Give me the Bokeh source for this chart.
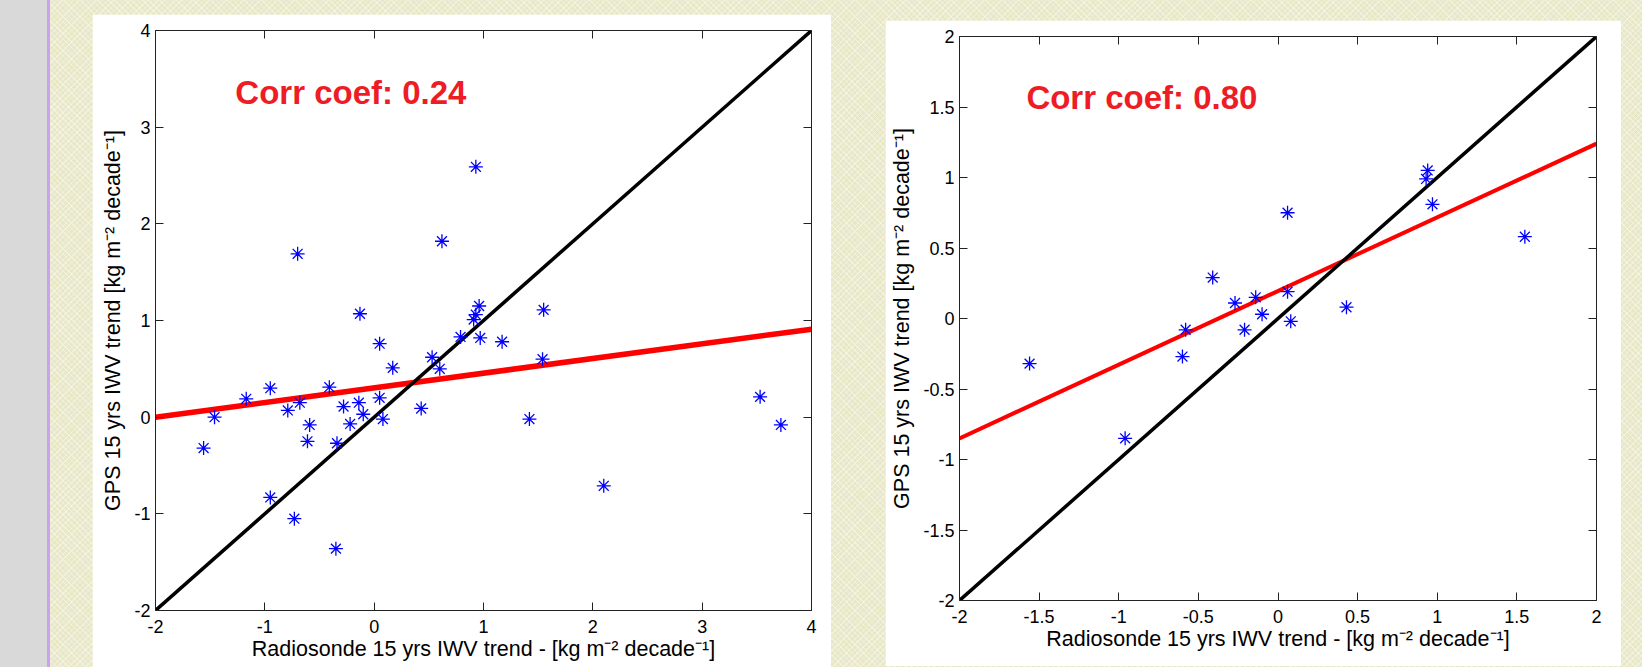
from bokeh.plotting import figure
from bokeh.layouts import row
from bokeh.models import (FixedTicker, LinearAxis, Label, Range1d,
                          NumeralTickFormatter, Spacer)
from bokeh.embed import file_html
from bokeh.resources import INLINE

# ---------------- data ----------------
left_x = [0.93, 0.62, -0.70, -0.13, 0.96, 0.93, 0.91, 0.05, 0.17, 0.79,
          0.97, 1.17, 1.55, 0.53, 0.60, 1.54, -0.95, -0.41, -1.17, 0.05,
          0.43, 0.08, 1.42, 3.53, 3.72, 2.10, -1.56, -1.46, -0.68, -0.79,
          -0.59, -0.61, -0.34, -0.28, -0.14, -0.10, -0.22, -0.95, -0.73, -0.35]
left_y = [2.59, 1.82, 1.69, 1.07, 1.15, 1.06, 1.01, 0.76, 0.51, 0.83,
          0.82, 0.78, 1.11, 0.62, 0.50, 0.60, 0.30, 0.31, 0.19, 0.20,
          0.09, -0.02, -0.02, 0.21, -0.08, -0.71, -0.32, 0.00, 0.15, 0.07,
          -0.08, -0.25, -0.27, 0.11, 0.15, 0.03, -0.07, -0.83, -1.05, -1.36]

right_x = [0.94, 0.93, 0.97, 0.06, 1.55, -0.41, -0.27, -0.14, 0.06, -0.10,
           -0.21, 0.08, 0.43, -0.58, -0.60, -1.56, -0.96]
right_y = [1.05, 0.99, 0.81, 0.75, 0.58, 0.29, 0.11, 0.15, 0.19, 0.03,
           -0.08, -0.02, 0.08, -0.08, -0.27, -0.32, -0.85]

left_fit_x = [-2, 4]
left_fit_y = [0.0, 0.91]
left_one_x = [-2, 4]
left_one_y = [-2, 4]

right_fit_x = [-2, 2]
right_fit_y = [-0.85, 1.24]
right_one_x = [-2, 2]
right_one_y = [-2, 2]

left_ticks = [-2, -1, 0, 1, 2, 3, 4]
right_ticks = [-2, -1.5, -1, -0.5, 0, 0.5, 1, 1.5, 2]

left_corr = "Corr coef: 0.24"
right_corr = "Corr coef: 0.80"

x_label = "Radiosonde 15 yrs IWV trend - [kg m\u207b\u00b2 decade\u207b\u00b9]"
y_label = "GPS 15 yrs IWV trend [kg m\u207b\u00b2 decade\u207b\u00b9]"

FONT = "Liberation Sans"


def style_axis(ax, ticks):
    ax.ticker = FixedTicker(ticks=ticks)
    ax.formatter = NumeralTickFormatter(format="0.[0]")
    ax.major_tick_in = 8
    ax.major_tick_out = 0
    ax.minor_tick_line_color = None
    ax.axis_line_color = "#222222"
    ax.major_tick_line_color = "#222222"
    ax.major_label_text_font = FONT
    ax.major_label_text_font_size = "18px"
    ax.major_label_text_color = "black"
    ax.axis_label_text_font = FONT
    ax.axis_label_text_font_size = "21.5px"
    ax.axis_label_text_font_style = "normal"
    ax.axis_label_text_color = "black"


def panel(xs, ys, fit_x, fit_y, one_x, one_y, lo, hi, ticks, corr, corr_x, corr_y,
          fw, fh, bl, br, bt, bb, fit_w):
    p = figure(x_range=Range1d(lo, hi), y_range=Range1d(lo, hi),
               frame_width=fw, frame_height=fh,
               min_border_left=bl, min_border_right=br,
               min_border_top=bt, min_border_bottom=bb,
               output_backend="svg", toolbar_location=None,
               background_fill_color="white", border_fill_color="white",
               outline_line_color=None)
    p.grid.visible = False

    top = LinearAxis(axis_label=None)
    rgt = LinearAxis(axis_label=None)
    p.add_layout(top, "above")
    p.add_layout(rgt, "right")

    bottom = p.below[0]
    left = p.left[0]
    for ax in (bottom, left, top, rgt):
        style_axis(ax, ticks)

    for ax in (top, rgt):
        ax.major_label_overrides = {t: "" for t in ticks}
        ax.major_label_text_font_size = "0px"
        ax.major_label_standoff = 0
        ax.axis_label_standoff = 0

    bottom.axis_label = x_label
    left.axis_label = y_label
    bottom.major_label_standoff = 9
    left.major_label_standoff = 5
    left.axis_label_standoff = 6
    bottom.axis_label_standoff = 1

    p.line(fit_x, fit_y, line_color="#ff0000", line_width=fit_w)
    p.line(one_x, one_y, line_color="black", line_width=3.5)
    p.scatter(xs, ys, marker="asterisk", size=14, line_color="#0000ff",
              line_width=1.3)

    p.add_layout(Label(x=corr_x, y=corr_y, text=corr, text_font=FONT,
                       text_font_size="33px", text_font_style="bold",
                       text_color="#ee1c25", text_baseline="alphabetic",
                       text_align="left", y_offset=10))
    return p


p1 = panel(left_x, left_y, left_fit_x, left_fit_y, left_one_x, left_one_y,
           -2, 4, left_ticks, left_corr, -1.27, 3.26,
           656, 580, 63, 20, 16, 57, 5.5)
p1.margin = (14, 0, 0, 92)

p2 = panel(right_x, right_y, right_fit_x, right_fit_y, right_one_x, right_one_y,
           -2, 2, right_ticks, right_corr, -1.58, 1.493,
           637, 564, 74, 25, 16, 66, 4.0)
p2.margin = (20, 0, 0, 54)

tail = Spacer(width=21, height=667)

bg = ("linear-gradient(to right, #d9d9d9 0px, #d9d9d9 47px, #c9a2f2 47px, "
      "#c9a2f2 50px, rgba(0,0,0,0) 50px), "
      "repeating-linear-gradient(45deg, rgba(255,255,255,0.35) 0px, "
      "rgba(255,255,255,0.35) 1px, rgba(0,0,0,0) 1px, rgba(0,0,0,0) 4px), "
      "repeating-linear-gradient(-45deg, rgba(255,255,255,0.35) 0px, "
      "rgba(255,255,255,0.35) 1px, rgba(0,0,0,0) 1px, rgba(0,0,0,0) 4px)")

layout = row(p1, p2, tail,
             styles={"background-color": "#e8e8c9", "background-image": bg})

open("out.html", "w").write(file_html(layout, INLINE))
